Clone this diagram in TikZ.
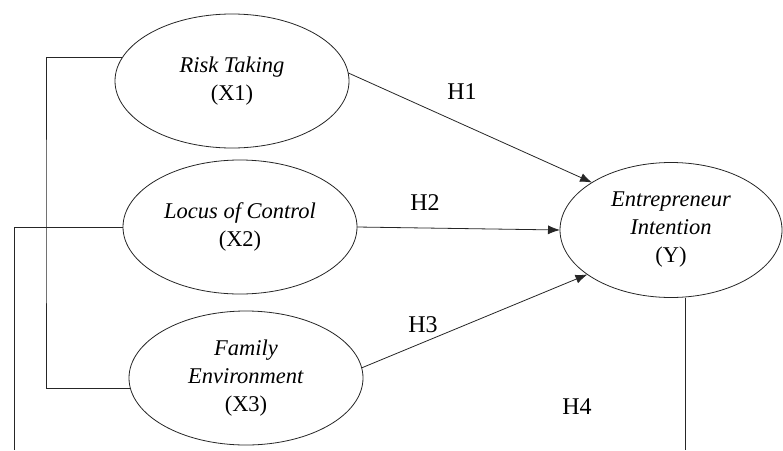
\documentclass[tikz,border=0pt]{standalone}
\usepackage{fontspec}
\setmainfont{Liberation Serif}
\usepackage{tkz-graph}
\usetikzlibrary{arrows.meta,shapes.geometric}
\colorlet{myline}{black!85}

\begin{document}
\begin{tikzpicture}[x=1pt,y=-1pt]
\useasboundingbox (0,0) rectangle (783,450);
\tikzset{VertexStyle/.style ={shape=ellipse,draw=myline,line width=0.8pt,inner sep=0pt,
  minimum width=234pt,minimum height=134pt,align=center,
  font=\fontsize{22.5}{28}\selectfont}}
\tikzset{EdgeStyle/.style ={color=myline,line width=0.8pt,-{Latex[length=12pt,width=9pt]}}}
\tikzset{hlabel/.style ={font=\fontsize{24}{28}\selectfont}}
\Vertex[x=232,y=81,L={\textit{Risk Taking}\\(X1)}]{X1}
\Vertex[x=240,y=227,L={\textit{Locus of Control}\\(X2)}]{X2}
\Vertex[x=246,y=378,L={\textit{Family}\\\textit{Environment}\\(X3)}]{X3}
\tikzset{VertexStyle/.append style ={minimum width=222pt,minimum height=135pt}}
\Vertex[x=671,y=230,L={\textit{Entrepreneur}\\\textit{Intention}\\(Y)}]{Y}
\Edge(X1.4)(Y.149)
\Edge(X2.east)(Y.west)
\Edge(X3.5)(Y.208)
\node[hlabel] (h1) at (462,92) {H1};
\node[hlabel] (h2) at (425,203) {H2};
\node[hlabel] (h3) at (423,325) {H3};
\node[hlabel] (h4) at (577,407) {H4};
% side lines
\coordinate (bend) at (46,220);
\coordinate (x2end) at (14,450);
\coordinate (yend) at (685,450);
\draw[myline,line width=0.8pt] (X1.168) -| (bend) |- (X3.185);
\draw[myline,line width=0.8pt] (X2.west) -| (x2end);
\draw[myline,line width=0.8pt] (Y.south -| yend) -- (yend);
\end{tikzpicture}
\end{document}
